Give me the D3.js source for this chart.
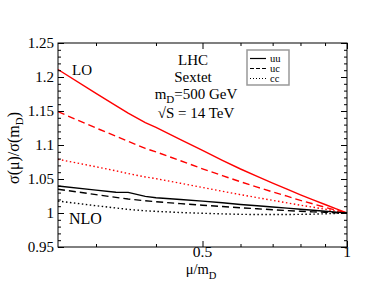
<!DOCTYPE html>
<html><head><meta charset="utf-8">
<script src="https://cdn.jsdelivr.net/npm/d3@7"></script>
<style>body{margin:0;background:#fff}svg{display:block}text{font-family:"Liberation Serif","Times New Roman",serif;fill:#000}</style>
</head><body><svg id="c" width="376" height="291"></svg>
<script>
// mu / m_D grid
const mu = [0.25,0.3,0.33,0.35,0.38,0.4,0.45,0.5,0.55,0.6,0.65,0.7,0.75,0.8,0.85,0.9,0.95,1.0];
// LO (red)
const loUU = [1.211,1.176,1.158,1.147,1.133,1.126,1.108,1.092,1.0775,1.0647,1.0537,1.044,1.035,1.0268,1.0194,1.0125,1.0062,1.0];
const loUC = [1.149,1.125,1.113,1.1055,1.095,1.0899,1.0768,1.065,1.0549,1.046,1.038,1.031,1.0247,1.0185,1.0134,1.0084,1.004,1.0];
const loCC = [1.079,1.068,1.062,1.058,1.053,1.0505,1.0437,1.0376,1.032,1.027,1.0226,1.0186,1.0149,1.0115,1.0085,1.0055,1.0027,1.0];
// NLO (black)
const nloUU = [1.0397,1.0337,1.0306,1.0303,1.0245,1.0224,1.0199,1.0174,1.015,1.0126,1.0106,1.0088,1.0072,1.0056,1.004,1.0026,1.0013,1.0];
const nloUC = [1.035,1.027,1.023,1.0205,1.018,1.0165,1.0138,1.0115,1.0095,1.0077,1.0062,1.0048,1.0036,1.0026,1.0017,1.001,1.0004,1.0];
const nloCC = [1.0176,1.0107,1.0074,1.0053,1.0032,1.0024,1.0007,0.9996,0.9987,0.998,0.9978,0.9977,0.9978,0.998,0.9983,0.9988,0.9994,1.0];

const xMajor = [0.5,1];
const xMajorLabels = ["0.5","1"];
const xMinor = [0.3,0.4,0.6,0.7,0.8,0.9];
const yMajor = [0.95,1,1.05,1.1,1.15,1.2,1.25];
const yMajorLabels = ["0.95","1","1.05","1.1","1.15","1.2","1.25"];
const yMinor = d3.range(95,126).map(v=>v/100);
const legendLabels = ["uu","uc","cc"];

const svg = d3.select("#c");
const L=58,R=347,T=43,B=247;
const x = d3.scaleLog().domain([0.25,1]).range([L,R]);
const y = d3.scaleLinear().domain([0.95,1.25]).range([B,T]);

const series = [
  {v:loUU,c:"#ff0000",d:null},
  {v:loUC,c:"#ff0000",d:"7,4"},
  {v:loCC,c:"#ff0000",d:"1.5,2.5"},
  {v:nloUU,c:"#000",d:null},
  {v:nloUC,c:"#000",d:"7,4"},
  {v:nloCC,c:"#000",d:"1.5,2.5"}
];
const line = d3.line().x(d=>x(d[0])).y(d=>y(d[1]));
series.forEach(s=>{
  svg.append("path").attr("d",line(mu.map((m,i)=>[m,s.v[i]])))
    .attr("fill","none").attr("stroke",s.c).attr("stroke-width",1.4)
    .attr("stroke-dasharray",s.d);
});

// axes (ticks inward, mirrored)
const g=svg.append("g");
g.append("g").attr("transform",`translate(0,${B})`).call(d3.axisBottom(x).tickValues(xMajor).tickSize(-6).tickFormat(""));
g.append("g").attr("transform",`translate(0,${B})`).call(d3.axisBottom(x).tickValues(xMinor).tickSize(-3).tickFormat(""));
g.append("g").attr("transform",`translate(0,${T})`).call(d3.axisTop(x).tickValues(xMajor).tickSize(-6).tickFormat(""));
g.append("g").attr("transform",`translate(0,${T})`).call(d3.axisTop(x).tickValues(xMinor).tickSize(-3).tickFormat(""));
g.append("g").attr("transform",`translate(${L},0)`).call(d3.axisLeft(y).tickValues(yMajor).tickSize(-6).tickFormat(""));
g.append("g").attr("transform",`translate(${L},0)`).call(d3.axisLeft(y).tickValues(yMinor).tickSize(-3).tickFormat(""));
g.append("g").attr("transform",`translate(${R},0)`).call(d3.axisRight(y).tickValues(yMajor).tickSize(-6).tickFormat(""));
g.append("g").attr("transform",`translate(${R},0)`).call(d3.axisRight(y).tickValues(yMinor).tickSize(-3).tickFormat(""));
g.selectAll(".domain").remove();
g.selectAll("line").attr("stroke","#000").attr("stroke-width",1);

// tick labels
svg.append("g").selectAll("text").data(xMajor).join("text")
  .attr("x",d=>x(d)).attr("y",257).attr("text-anchor","middle").attr("font-size",15.5)
  .text((d,i)=>xMajorLabels[i]);
svg.append("g").selectAll("text").data(yMajor).join("text")
  .attr("x",54).attr("y",d=>y(d)+5).attr("text-anchor","end").attr("font-size",15)
  .text((d,i)=>yMajorLabels[i]);

svg.append("rect").attr("x",L).attr("y",T).attr("width",R-L).attr("height",B-T)
  .attr("fill","none").attr("stroke","#000").attr("stroke-width",1);

// axis titles
const xt=svg.append("text").attr("x",201).attr("y",274).attr("text-anchor","middle").attr("font-size",14.5);
xt.append("tspan").text("μ/m");
xt.append("tspan").attr("dy",5).attr("font-size",10.5).text("D");
const yt=svg.append("text").attr("transform","translate(19,148) rotate(-90)").attr("text-anchor","middle").attr("font-size",16);
yt.append("tspan").text("σ(μ)/σ(m");
yt.append("tspan").attr("dy",4).attr("font-size",11).text("D");
yt.append("tspan").attr("dy",-4).text(")");

// annotations
svg.append("text").attr("x",72).attr("y",74.5).attr("font-size",15).text("LO");
svg.append("text").attr("x",69).attr("y",224).attr("font-size",16).text("NLO");
const ann=svg.append("g").attr("font-size",15).attr("text-anchor","middle");
ann.append("text").attr("x",193).attr("y",65).text("LHC");
ann.append("text").attr("x",193).attr("y",82).text("Sextet");
const md=ann.append("text").attr("x",196).attr("y",98.5);
md.append("tspan").text("m");
md.append("tspan").attr("dy",4).attr("font-size",11).text("D");
md.append("tspan").attr("dy",-4).text("=500 GeV");
ann.append("text").attr("x",196).attr("y",118).text("√S = 14 TeV");

// legend
const lg=svg.append("g");
lg.append("rect").attr("x",247).attr("y",50).attr("width",42).attr("height",35)
  .attr("fill","#fff").attr("stroke","#999").attr("stroke-width",1.5);
const dashes=[null,"4,2","1,2"];
legendLabels.forEach((t,i)=>{
  const yy=58.5+i*10;
  lg.append("line").attr("x1",250).attr("x2",266).attr("y1",yy).attr("y2",yy)
    .attr("stroke","#000").attr("stroke-width",1.2).attr("stroke-dasharray",dashes[i]);
  lg.append("text").attr("x",270).attr("y",yy+3).attr("font-size",10.5).text(t);
});
</script></body></html>
